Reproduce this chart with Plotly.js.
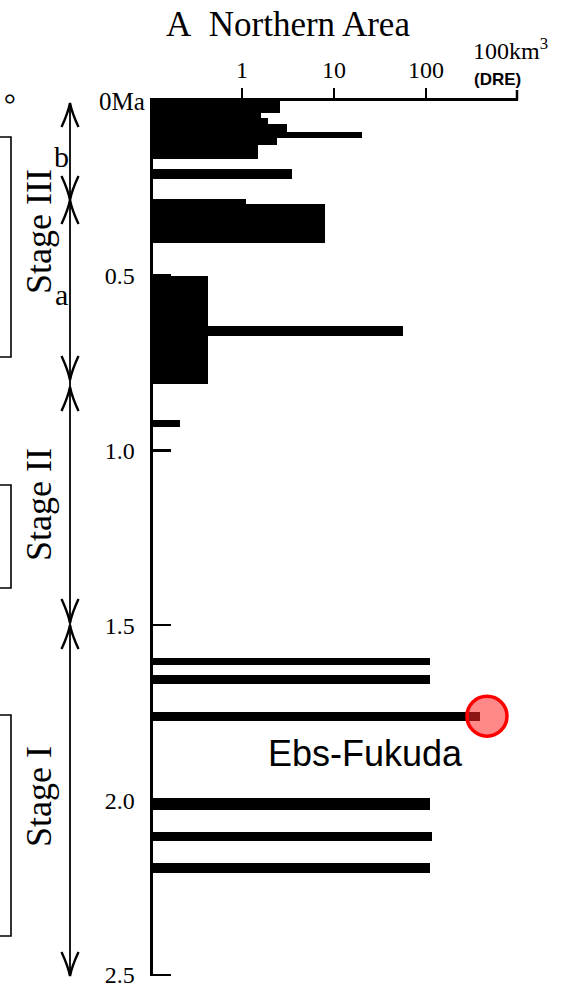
<!DOCTYPE html>
<html>
<head>
<meta charset="utf-8">
<script src="https://cdn.plot.ly/plotly-3.0.1.min.js"></script>
<style>html,body{margin:0;padding:0;background:#fff;}#chart{width:568px;height:987px;}</style>
</head>
<body>
<div id="chart"></div>
<script>
// ---- data (ages in Ma, erupted volume in km3 DRE) ----
const ageTop    = [0.000, 0.035, 0.049, 0.068, 0.090, 0.106, 0.126, 0.197, 0.283, 0.297, 0.501, 0.644, 0.912, 1.593, 1.643, 1.747, 1.995, 2.090, 2.180];
const ageBottom = [0.035, 0.049, 0.068, 0.090, 0.106, 0.126, 0.168, 0.225, 0.406, 0.406, 0.810, 0.673, 0.934, 1.614, 1.667, 1.774, 2.028, 2.118, 2.209];
const volume    = [2.6,   1.6,   1.9,   3.1,   20,    2.4,   1.5,   3.5,   1.1,   8.0,   0.43,  56,    0.21,  110,   110,   390,   110,   115,   110];

const highlightVolume = [460];
const highlightAge = [1.76];
const highlightLabel = 'Ebs-Fukuda';

const xTickVals = [1, 10, 100];
const xTickText = ['1', '10', '100'];
const xEndLabel = '100km<sup>3</sup>';
const xUnitLabel = '(DRE)';
const yTickVals = [0.5, 1.0, 1.5, 2.0, 2.5];
const yTickText = ['0.5', '1.0', '1.5', '2.0', '2.5'];
const yZeroLabel = '0Ma';

const stageNames = ['Stage III', 'Stage II', 'Stage I'];
const subStageNames = ['b', 'a'];

// ---- helpers for pixel -> paper placement (layout only) ----
const W = 568, H = 987;
const px = x => x / W;
const py = y => 1 - y / H;

const centers = ageTop.map((t, i) => (t + ageBottom[i]) / 2);
const widths = ageTop.map((t, i) => ageBottom[i] - t);

const traces = [
  {
    type: 'bar', orientation: 'h',
    x: volume, y: centers, width: widths,
    marker: {color: '#000', line: {width: 0}},
    hoverinfo: 'x+y'
  },
  {
    type: 'scatter', mode: 'markers',
    x: highlightVolume, y: highlightAge,
    marker: {size: 40, color: 'rgba(255,40,40,0.55)', line: {color: '#ff0000', width: 3.5}},
    cliponaxis: false
  }
];

const serif = 'Liberation Serif, Times New Roman, serif';
const sans = 'Liberation Sans, Arial, sans-serif';

// chevrons for the stage arrow line
const lineX = 70;
function chevron(tipY, dir) { // dir=-1 points up, +1 points down
  const back = tipY - dir * 24;
  const mid = tipY - dir * 10;
  return {type: 'path', xref: 'paper', yref: 'paper',
    path: `M ${px(lineX - 8.5)},${py(back)} Q ${px(lineX - 2)},${py(mid)} ${px(lineX)},${py(tipY)} Q ${px(lineX + 2)},${py(mid)} ${px(lineX + 8.5)},${py(back)}`,
    line: {color: '#000', width: 2.4}};
}

const shapes = [
  {type: 'line', xref: 'paper', yref: 'paper', x0: px(lineX), x1: px(lineX), y0: py(103), y1: py(976), line: {color: '#000', width: 1.8}},
  chevron(103, -1), chevron(200, 1), chevron(200, -1),
  chevron(380, 1), chevron(387, -1),
  chevron(623, 1), chevron(625, -1),
  chevron(976, 1),
  // end tick of the top axis
  {type: 'line', xref: 'paper', yref: 'paper', x0: px(517), x1: px(517), y0: py(100), y1: py(90), line: {color: '#000', width: 2.5}},
  {type: 'rect', xref: 'paper', yref: 'paper', x0: px(-5), x1: px(11), y0: py(137), y1: py(357), line: {color: '#000', width: 1.6}},
  {type: 'rect', xref: 'paper', yref: 'paper', x0: px(-5), x1: px(11), y0: py(485), y1: py(588), line: {color: '#000', width: 1.6}},
  {type: 'rect', xref: 'paper', yref: 'paper', x0: px(-5), x1: px(11), y0: py(715), y1: py(936), line: {color: '#000', width: 1.6}}
];

function ann(text, x, y, size, family, extra) {
  return Object.assign({text: text, x: px(x), y: py(y), xref: 'paper', yref: 'paper', showarrow: false,
    xanchor: 'center', yanchor: 'middle', font: {family: family, size: size, color: '#000'}}, extra || {});
}

const annotations = [
  ann('A&nbsp;&nbsp;Northern Area', 288, 24, 35, serif),
  ann(xEndLabel, 510, 49, 24, serif),
  ann('<b>' + xUnitLabel + '</b>', 497, 80, 17, sans),
  ann(yZeroLabel, 147, 102, 25, serif, {xanchor: 'right'}),
  ann('。', 2, 88, 30, 'Noto Sans CJK SC', {xanchor: 'left'}),
  ann(stageNames[0], 39, 232, 36, serif, {textangle: -90}),
  ann(stageNames[1], 39, 505, 36, serif, {textangle: -90}),
  ann(stageNames[2], 39, 797, 36, serif, {textangle: -90}),
  ann(subStageNames[0], 62, 157, 30, serif),
  ann(subStageNames[1], 61, 294, 30, serif),
  ann(highlightLabel, 365, 753, 36, sans)
];

const layout = {
  width: W, height: H,
  margin: {l: 0, r: 0, t: 0, b: 0, autoexpand: false},
  paper_bgcolor: '#fff', plot_bgcolor: '#fff',
  showlegend: false,
  barmode: 'overlay',
  bargap: 0,
  xaxis: {
    type: 'log', range: [-0.967, 3.0], side: 'top', anchor: 'y',
    domain: [153 / W, 518 / W],
    showline: true, linecolor: '#000', linewidth: 3,
    ticks: 'outside', ticklen: 10, tickwidth: 2.5, tickcolor: '#000',
    tickvals: xTickVals, ticktext: xTickText,
    tickfont: {family: serif, size: 24, color: '#000'},
    ticklabeloverflow: 'allow',
    showgrid: false, zeroline: false, fixedrange: true
  },
  yaxis: {
    range: [2.504, 0], anchor: 'x',
    domain: [1 - 976.4 / H, 1 - 100.5 / H],
    showline: true, linecolor: '#000', linewidth: 3.5,
    ticks: 'inside', ticklen: 18, tickwidth: 2.5, tickcolor: '#000',
    tickvals: yTickVals, ticktext: yTickText,
    ticklabelstandoff: 10,
    ticklabeloverflow: 'allow',
    tickfont: {family: serif, size: 24, color: '#000'},
    showgrid: false, zeroline: false, fixedrange: true
  },
  shapes: shapes,
  annotations: annotations
};

Plotly.newPlot('chart', traces, layout, {displayModeBar: false, staticPlot: true});
</script>
</body>
</html>
